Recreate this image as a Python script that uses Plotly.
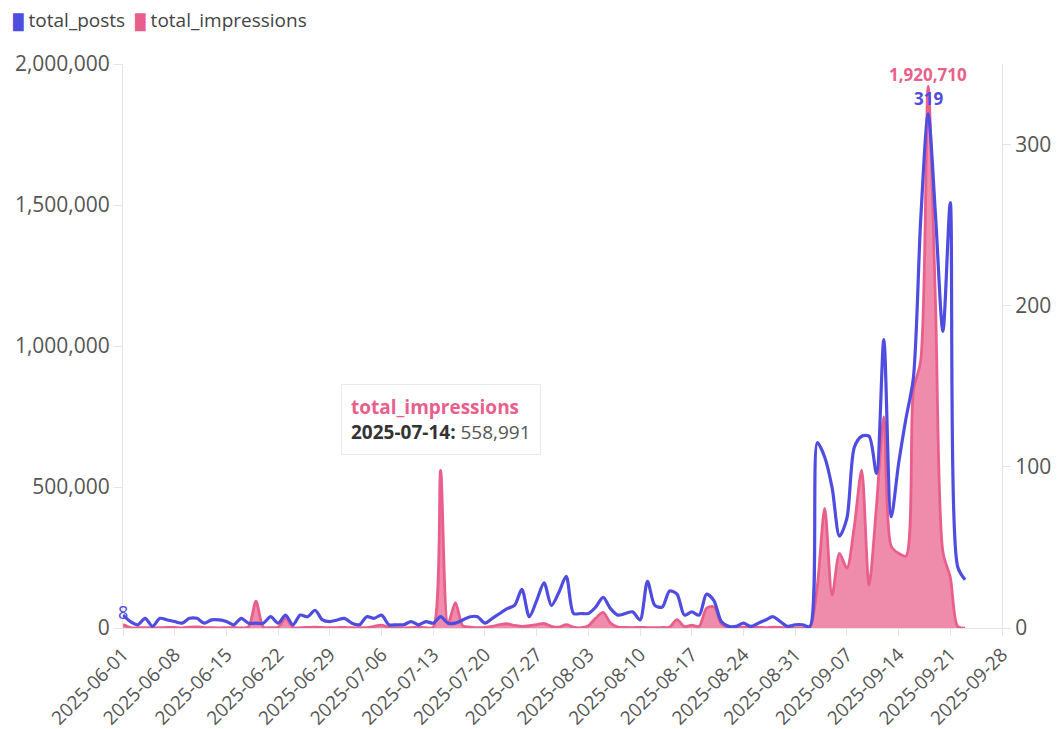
import plotly.graph_objects as go
import pandas as pd

# ---- data ----
dates = pd.date_range("2025-06-01", "2025-09-23", freq="D").strftime("%Y-%m-%d").tolist()

total_posts = [
    8, 4, 2, 6, 1, 6, 5, 4, 3, 6,
    6, 3, 5, 5, 4, 2, 6, 3, 3, 3,
    7, 3, 8, 2, 8, 7, 11, 5, 4, 5,
    6, 3, 2, 7, 6, 8, 2, 2, 2, 4,
    2, 4, 3, 7, 3, 3, 5, 7, 7, 3,
    6, 9, 12, 14, 24, 7, 17, 28, 14, 22,
    32, 9, 9, 9, 13, 19, 12, 8, 9, 10,
    5, 29, 14, 13, 23, 21, 8, 10, 8, 21,
    17, 4, 1, 1, 3, 1, 3, 5, 7, 4,
    1, 2, 2, 1, 115, 106, 87, 57, 68, 112,
    119, 119, 96, 179, 69, 102, 130, 155, 254, 319,
    256, 184, 264, 38, 30,
]

total_impressions = [
    12000, 1500, 800, 1200, 500, 900, 2500, 1800, 700, 3000,
    4000, 1500, 900, 600, 1200, 2000, 800, 4000, 95000, 3000,
    1500, 2500, 35000, 1500, 1000, 2000, 3000, 1800, 900, 1500,
    2200, 900, 800, 1500, 6000, 10000, 2000, 800, 600, 1500,
    2500, 1200, 3000, 558991, 15000, 90000, 8000, 3000, 1000, 2500,
    6000, 12000, 15000, 9000, 6000, 8000, 12000, 16000, 6000, 3000,
    12000, 3000, 1000, 8000, 35000, 55000, 18000, 3000, 2000, 1500,
    2500, 1200, 900, 2000, 3000, 30000, 5000, 10000, 6000, 70000,
    75000, 15000, 2000, 1500, 3000, 1000, 2500, 1500, 3000, 2000,
    1000, 500, 800, 5000, 150000, 424000, 117000, 265000, 212000, 360000,
    560000, 152000, 430000, 749000, 290000, 265000, 255000, 840000, 950000, 1920710,
    1150000, 270000, 180000, 5000, 0,
]

series_names = ["total_posts", "total_impressions"]
hover_date = "2025-07-14"

# ---- styles ----
BLUE = "#4F4CE0"
PINK = "#E95F8C"
PINK_FILL = "rgba(233,95,140,0.72)"
FONT = "Open Sans"
AXIS_GREY = "#E4E4E4"
TEXT_GREY = "#555555"
TICK_SIZE = 21
XTICK_SIZE = 19

fig = go.Figure()

fig.add_trace(go.Scatter(
    x=dates, y=total_impressions, name=series_names[1],
    mode="lines", line=dict(color=PINK, width=2.8, shape="spline", smoothing=0.8),
    fill="tozeroy", fillcolor=PINK_FILL, yaxis="y", showlegend=False,
))
fig.add_trace(go.Scatter(
    x=dates, y=total_posts, name=series_names[0],
    mode="lines", line=dict(color=BLUE, width=3.2, shape="spline", smoothing=0.8),
    yaxis="y2", showlegend=False,
))

# peak / first labels
i_imp = max(range(len(total_impressions)), key=lambda i: total_impressions[i])
i_post = max(range(len(total_posts)), key=lambda i: total_posts[i])
annotations = [
    dict(x=dates[i_imp], y=total_impressions[i_imp], xref="x", yref="y",
         text=f"<b>{total_impressions[i_imp]:,}</b>", showarrow=False,
         yanchor="bottom", yshift=-2, font=dict(family=FONT, size=17, color=PINK)),
    dict(x=dates[i_post], y=total_posts[i_post], xref="x", yref="y2",
         text=f"<b>{total_posts[i_post]}</b>", showarrow=False,
         yanchor="bottom", yshift=2, font=dict(family=FONT, size=17, color=BLUE)),
    dict(x=dates[0], y=total_posts[0], xref="x", yref="y2",
         text=f"{total_posts[0]}", showarrow=False,
         yanchor="bottom", yshift=-11, font=dict(family=FONT, size=18, color=BLUE)),
]

# tooltip-like box
hi = dates.index(hover_date)
annotations.append(dict(
    x=dates[hi], y=total_impressions[hi], xref="x", yref="y",
    text=(f"<span style='color:{PINK}'><b>{series_names[1]}</b></span><br>"
          f"<b style='color:#333'>{dates[hi]}:</b> {total_impressions[hi]:,}"),
    showarrow=False, yanchor="bottom", yshift=15, align="left",
    bgcolor="white", bordercolor="#EBEBEB", borderwidth=1, borderpad=9,
    font=dict(family=FONT, size=19, color="#555555"),
))

# legend-like header
annotations.append(dict(
    x=0, y=1, xref="paper", yref="paper", xanchor="left", yanchor="middle",
    xshift=-112, yshift=44, showarrow=False, align="left",
    text=(f"<span style='color:{BLUE};font-size:15px'>█</span> {series_names[0]}  "
          f"<span style='color:{PINK};font-size:15px'>█</span> {series_names[1]}"),
    font=dict(family=FONT, size=19, color="#444444"),
))

fig.update_layout(
    template="none",
    width=1057, height=729,
    margin=dict(l=123, r=55, t=64, b=101),
    paper_bgcolor="white", plot_bgcolor="white",
    font=dict(family=FONT, size=19, color=TEXT_GREY),
    showlegend=False,
    hovermode="closest",
    annotations=annotations,
    xaxis=dict(
        type="date", range=["2025-06-01", "2025-09-28"],
        tick0="2025-06-01", dtick=7 * 24 * 3600 * 1000, tickformat="%Y-%m-%d",
        tickangle=-45, showgrid=False, zeroline=False,
        showline=True, linecolor=AXIS_GREY, linewidth=1,
        ticks="outside", ticklen=7, tickcolor=AXIS_GREY,
        tickfont=dict(family=FONT, size=XTICK_SIZE, color=TEXT_GREY),
        automargin=False,
    ),
    yaxis=dict(
        range=[0, 2000000], tickvals=[0, 500000, 1000000, 1500000, 2000000],
        tickformat=",", showgrid=False, zeroline=False,
        showline=True, linecolor=AXIS_GREY, linewidth=1,
        ticks="outside", ticklen=8, tickcolor=AXIS_GREY,
        tickfont=dict(family=FONT, size=TICK_SIZE, color=TEXT_GREY),
        automargin=False,
    ),
    yaxis2=dict(
        overlaying="y", side="right", range=[0, 350],
        tickvals=[0, 100, 200, 300], showgrid=False, zeroline=False,
        showline=True, linecolor=AXIS_GREY, linewidth=1,
        ticks="outside", ticklen=8, tickcolor=AXIS_GREY,
        tickfont=dict(family=FONT, size=TICK_SIZE, color=TEXT_GREY),
        automargin=False,
    ),
)

fig.write_html(
    "out.html",
    config={"displayModeBar": False},
    post_script="document.body.style.margin='0px';document.body.style.overflow='hidden';",
)
